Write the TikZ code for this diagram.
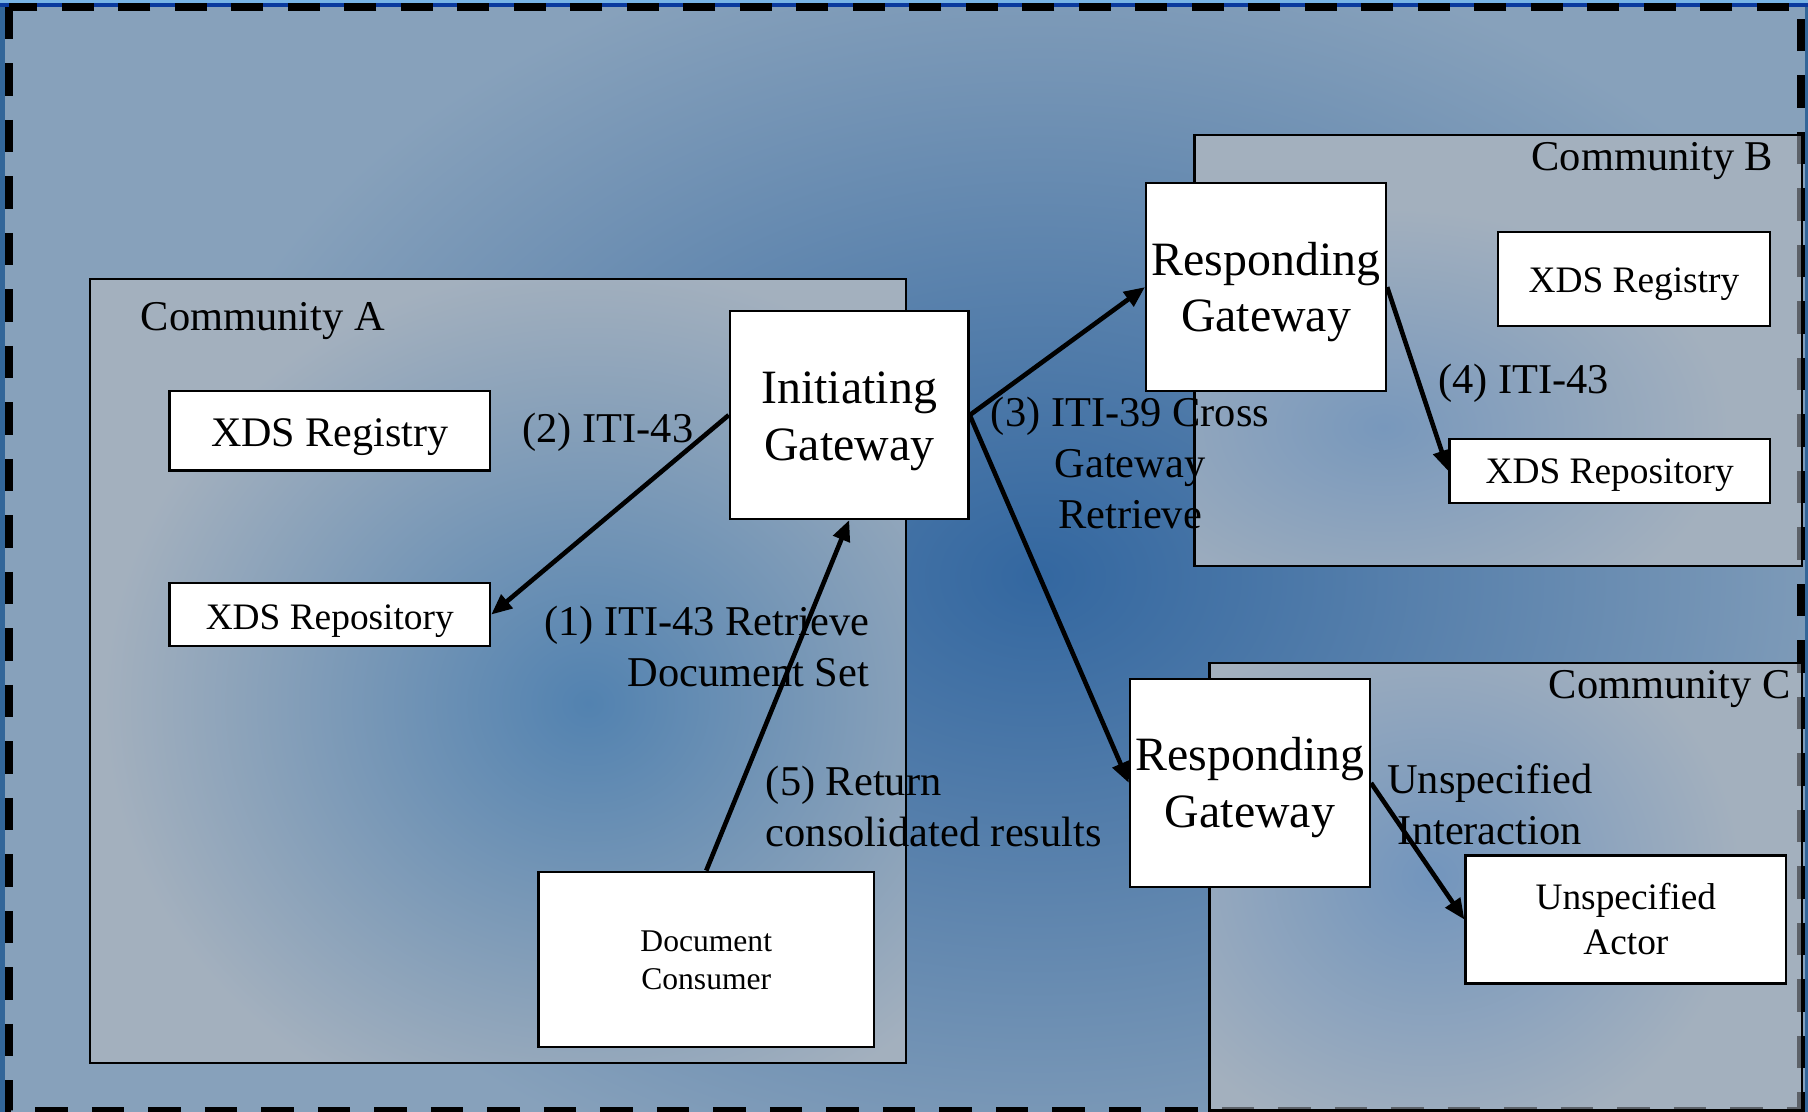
\documentclass[tikz,border=0pt]{standalone}
\usepackage{fontspec}
\setmainfont{Liberation Serif}
\usetikzlibrary{arrows.meta}
\definecolor{bgout}{HTML}{87A1BB}
\definecolor{bgin}{HTML}{3367A0}
\definecolor{edgeblue}{HTML}{336699}
\definecolor{topcyan}{HTML}{78B4E6}
\definecolor{topdark}{HTML}{0A3A9E}
\definecolor{commgray}{HTML}{A3B0BE}
\definecolor{commAin}{HTML}{5282B0}
\definecolor{commBin}{HTML}{7898BC}
\definecolor{commCin}{HTML}{7295BD}
\definecolor{dashgray}{HTML}{5C6168}
\newcommand\fsLbl{\fontsize{36.8}{44}\selectfont}
\newcommand\fsGw{\fontsize{41.5}{49}\selectfont}
\newcommand\fsSm{\fontsize{32.4}{39}\selectfont}
\newcommand\fsDoc{\fontsize{27.4}{33}\selectfont}
% first-line strut: taller than \strut by #1 pt, so the text sits lower in its box
\newcommand\tstrut[1]{\rule[-0.3\baselineskip]{0pt}{\dimexpr\baselineskip+#1pt\relax}}
\tikzset{
  box/.style={draw=black, line width=2pt, fill=white, inner sep=0pt, align=center},
  lbl/.style={inner sep=0pt, font=\fsLbl, text=black},
  conn/.style={draw=black, line width=4pt, -{Triangle[length=18pt,width=15pt]}},
  commbox/.style={draw=black, line width=2pt},
  outerdash/.style={line width=6.5pt, dash pattern=on 28pt off 21pt},
}
\begin{document}
\begin{tikzpicture}[x=1pt,y=-1pt]
\useasboundingbox (0,0) rectangle (1568,964);
% background
\begin{scope}
  \clip (0,0) rectangle (1568,964);
  \fill[bgout] (0,0) rectangle (1568,964);
  \shade[inner color=bgin, outer color=bgout] (900,500) ellipse [x radius=760, y radius=560];
  \fill[edgeblue] (0,0) rectangle (4.6,964);
  \fill[edgeblue] (1565,0) rectangle (1568,964);
  \fill[topcyan] (0,0) rectangle (1568,2.6);
  \fill[topdark] (0,2.6) rectangle (1568,6);
\end{scope}
\draw[outerdash] (7.6,6) rectangle (1562,963);
% Community A
\begin{scope}
  \clip (78,242) rectangle (786,922);
  \fill[commgray] (78,242) rectangle (786,922);
  \shade[inner color=commAin, outer color=commgray] (510,610) ellipse [x radius=420, y radius=380];
\end{scope}
% Community B
\begin{scope}
  \clip (1036,117) rectangle (1563,491);
  \fill[commgray] (1036,117) rectangle (1563,491);
  \shade[inner color=commBin, outer color=commgray] (1200,370) ellipse [x radius=300, y radius=190];
\end{scope}
% Community C
\begin{scope}
  \clip (1049,575) rectangle (1563,964);
  \fill[commgray] (1049,575) rectangle (1563,964);
  \shade[inner color=commCin, outer color=commgray] (1240,760) ellipse [x radius=270, y radius=240];
\end{scope}
\begin{scope}
  \clip (1036,117) rectangle (1563,491) (1049,575) rectangle (1563,964);
  \draw[outerdash, draw=dashgray] (7.6,6) rectangle (1562,963);
\end{scope}
\draw[commbox] (78,242) rectangle (786,922);
\draw[commbox] (1036,117) rectangle (1563,491);
\draw[commbox] (1049,575) rectangle (1563,963);
% community labels
\node[lbl, anchor=base west] (labA) at (122,287) {Community A};
\node[lbl, anchor=base east] (labB) at (1538,148) {Community B};
\node[lbl, anchor=base east] (labC) at (1553,606) {Community C};
% boxes
\node[box, minimum width=278pt, minimum height=69pt, font=\fontsize{36.5}{44}\selectfont] (regA) at (286,373.5) {\tstrut{9}XDS Registry};
\node[box, minimum width=278pt, minimum height=55pt, font=\fsSm] (repA) at (286,533) {\tstrut{10}XDS Repository};
\node[box, minimum width=207pt, minimum height=180pt, font=\fsGw] (ig) at (736.5,360) {\tstrut{10}Initiating\\\strut Gateway};
\node[box, minimum width=291pt, minimum height=152pt, font=\fsDoc] (dc) at (612.5,832) {\tstrut{6.4}Document\\\strut Consumer};
\node[box, minimum width=208pt, minimum height=180pt, font=\fsGw] (rgB) at (1098,249) {\tstrut{9.2}Responding\\\strut Gateway};
\node[box, minimum width=236pt, minimum height=82pt, font=\fsSm] (regB) at (1417,242) {\tstrut{8.4}XDS Registry};
\node[box, minimum width=278pt, minimum height=55pt, font=\fsSm] (repB) at (1396,408.5) {\tstrut{5.8}XDS Repository};
\node[box, minimum width=208pt, minimum height=180pt, font=\fsGw] (rgC) at (1084,679) {\tstrut{8.6}Responding\\\strut Gateway};
\node[box, minimum width=278pt, minimum height=111pt, font=\fsSm] (actor) at (1410,797.5) {\tstrut{6.6}Unspecified\\\strut Actor};
% connector labels
\node[lbl, anchor=base west] (l2) at (453,384) {(2) ITI-43};
\node[lbl, anchor=base west] (l4) at (1247,341.5) {(4) ITI-43};
\node[lbl, align=right, anchor=north east] (l1) at (754,520.2) {\strut(1) ITI-43 Retrieve\\Document Set};
\node[lbl, align=left, anchor=north west] (l5) at (664,659.2) {\strut(5) Return\\consolidated results};
\node[lbl, align=center, anchor=north] (l3) at (980,339.2) {\strut(3) ITI-39 Cross\\Gateway\\Retrieve};
\node[lbl, align=center, anchor=north] (lu) at (1292,657.2) {\strut Unspecified\\Interaction};
% connectors
\draw[conn] (ig.west) -- (repA.east);
\draw[conn] (dc.north) -- (ig.south);
\draw[conn] (ig.east) -- (rgB.west);
\draw[conn] (ig.east) -- (rgC.west);
\draw[conn] (rgB.east) -- (repB.west);
\draw[conn] (rgC.east) -- (actor.west);
\end{tikzpicture}
\end{document}
